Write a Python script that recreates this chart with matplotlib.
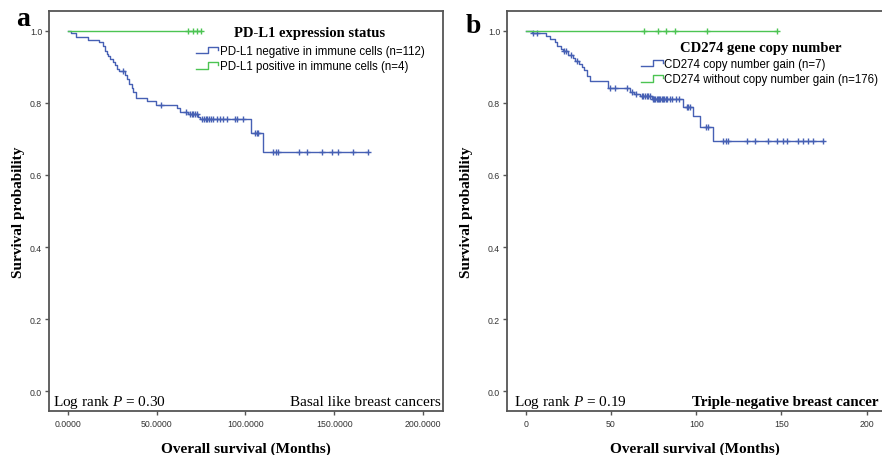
import numpy as np
import matplotlib
matplotlib.use("Agg")
import matplotlib.pyplot as plt
from matplotlib.lines import Line2D
from matplotlib.legend_handler import HandlerBase

plt.rcParams['font.family'] = ['Liberation Sans', 'DejaVu Sans']
plt.rcParams['mathtext.fontset'] = 'custom'
plt.rcParams['mathtext.rm'] = 'Liberation Serif'
plt.rcParams['mathtext.it'] = 'Liberation Serif:italic'

# ===== data =====
# panel a : basal like
a_neg_times = [0, 1.7, 4.5, 11.5, 17.7, 19.9, 20.8, 21.8, 22.7, 23.7, 25.2, 26.5, 27.8, 28.9,
               32.1, 33.1, 34.6, 35.9, 36.8, 38.3, 44.3, 49.6, 61.2, 63.1, 67.8, 73.4, 74.4,
               102.9, 110.0]
a_neg_surv = [1.0, 0.9935, 0.983, 0.974, 0.969, 0.959, 0.945, 0.936, 0.930, 0.922, 0.913, 0.904,
              0.894, 0.889, 0.878, 0.867, 0.853, 0.841, 0.830, 0.814, 0.806, 0.794, 0.785, 0.776,
              0.769, 0.760, 0.754, 0.717, 0.663]
a_neg_cens = [30.8, 52.4, 66.5, 68.7, 69.7, 70.6, 71.5, 72.5, 75.3, 76.6, 77.7, 78.5, 79.6, 80.4,
              81.9, 83.8, 85.6, 87.1, 89.4, 94.1, 95.4, 98.8, 105.4, 106.3, 107.2, 115.7, 117.2,
              118.5, 130.3, 134.8, 143.4, 148.5, 152.3, 160.7, 168.8]
a_pos_times = [0]
a_pos_surv = [1.0]
a_pos_cens = [67.8, 70.2, 72.5, 74.9]

# panel b : triple negative
b_gain_times = [0, 3.5, 11.9, 14.3, 17.2, 18.6, 20.5, 21.7, 25.0, 27.6, 28.9, 31.5, 32.8, 34.2,
                35.8, 37.7, 48.5, 61.2, 63.5, 67.0, 73.9, 92.5, 98.3, 102.2, 109.7]
b_gain_surv = [1.0, 0.993, 0.985, 0.978, 0.970, 0.959, 0.950, 0.943, 0.933, 0.924, 0.915, 0.908,
               0.899, 0.890, 0.876, 0.861, 0.840, 0.831, 0.825, 0.819, 0.811, 0.788, 0.763,
               0.733, 0.695]
b_gain_cens = [4.5, 6.4, 22.5, 23.6, 26.4, 29.9, 49.4, 52.4, 59.2, 62.3, 64.5, 68, 69, 70, 71, 72,
               72.9, 74.5, 75.2, 76, 76.8, 77.5, 78.3, 79, 79.8, 80.5, 81.2, 82, 83, 84.5, 86, 88,
               90, 94.4, 95.4, 96.4, 105.7, 107.1, 115.9, 117.5, 118.8, 129.6, 134.5, 142.3,
               147.2, 151.1, 153.1, 159.9, 162.8, 165.8, 168.7, 174.2]
b_nogain_times = [0]
b_nogain_surv = [1.0]
b_nogain_cens = [69.4, 77.8, 82.1, 87.6, 106.5, 147.6]

a_title = "PD-L1 expression status"
a_labels = ["PD-L1 negative in immune cells (n=112)", "PD-L1 positive in immune cells (n=4)"]
b_title = "CD274 gene copy number"
b_labels = ["CD274 copy number gain (n=7)", "CD274 without copy number gain (n=176)"]
a_xticks = [0, 50, 100, 150, 200]
a_xticklabels = ["0.0000", "50.0000", "100.0000", "150.0000", "200.0000"]
b_xticks = [0, 50, 100, 150, 200]
b_xticklabels = ["0", "50", "100", "150", "200"]
yticks = [0.0, 0.2, 0.4, 0.6, 0.8, 1.0]

BLUE = "#4660b4"
GREEN = "#4cc452"
SERIF = "Liberation Serif"


class StepHandler(HandlerBase):
    # SPSS style legend glyph
    def create_artists(self, legend, orig, xd, yd, w, h, fontsize, trans):
        x = np.array([0, 0.55, 0.55, 1.0, 1.0]) * w - xd
        y = np.array([0.1, 0.1, 0.9, 0.9, 0.55]) * h - yd
        ln = Line2D(x, y, color=orig.get_color(), lw=1.0)
        ln.set_transform(trans)
        return [ln]


def km(ax, times, surv, cens, color):
    times = np.asarray(times, float)
    surv = np.asarray(surv, float)
    end = max(max(cens), times[-1])
    ln, = ax.step(np.append(times, end), np.append(surv, surv[-1]), where='post',
                  color=color, lw=1.0)
    idx = np.searchsorted(times, cens, side='right') - 1
    ax.plot(cens, surv[idx], '+', color=color, ms=5, mew=1.0, ls='none')
    return ln


def style(ax, xlim, xticks, xticklabels, ylab_x):
    ax.set_xlim(*xlim)
    ax.set_ylim(-0.055, 1.055)
    ax.set_xticks(xticks)
    ax.set_xticklabels(xticklabels)
    ax.set_yticks(yticks)
    ax.set_yticklabels([f"{v:.1f}" for v in yticks])
    for s in ax.spines.values():
        s.set_color("#555555")
        s.set_linewidth(1.3)
    ax.tick_params(direction='out', length=3, width=1, color="#555555",
                   labelsize=6.3, labelcolor="#333333", pad=2)
    ax.tick_params(axis='x', pad=2.8)
    ax.set_xlabel("Overall survival (Months)", fontfamily=SERIF, fontweight='bold',
                  fontsize=11, labelpad=9.5)
    ax.set_ylabel("Survival probability", fontfamily=SERIF, fontweight='bold', fontsize=11)
    ax.yaxis.set_label_coords(ylab_x, 0.5)


def legend(ax, handles, labels, title, x0, ytop, xtitle, ytitle):
    ax.legend(handles, labels, handler_map={Line2D: StepHandler()},
              loc='upper left', bbox_to_anchor=(x0, ytop), frameon=False,
              borderpad=0, borderaxespad=0, handlelength=1.9, handletextpad=0.15,
              labelspacing=0.3, fontsize=8.3)
    ax.text(xtitle, ytitle, title, transform=ax.transAxes, fontfamily=SERIF,
            fontweight='bold', fontsize=10.5, ha='center', va='center')


fig = plt.figure(figsize=(8.82, 4.56), dpi=100)
axa = fig.add_axes([49 / 882, 1 - 412 / 456, 394 / 882, 400 / 456])
axb = fig.add_axes([507 / 882, 1 - 412 / 456, 376 / 882, 400 / 456])

# ---- panel a ----
la1 = km(axa, a_neg_times, a_neg_surv, a_neg_cens, BLUE)
la2 = km(axa, a_pos_times, a_pos_surv, a_pos_cens, GREEN)
style(axa, (-10.7, 211.3), a_xticks, a_xticklabels, -0.062)
legend(axa, [la1, la2], a_labels, a_title, 0.373, 0.915, 0.662, 0.9475)
axa.text(0.01, 0.015, r"Log rank $P$ = 0.30", transform=axa.transAxes, fontfamily=SERIF,
         fontsize=11, va='baseline', ha='left')
axa.text(0.995, 0.015, "Basal like breast cancers", transform=axa.transAxes, fontfamily=SERIF,
         fontsize=11, va='baseline', ha='right')

# ---- panel b ----
lb1 = km(axb, b_gain_times, b_gain_surv, b_gain_cens, BLUE)
lb2 = km(axb, b_nogain_times, b_nogain_surv, b_nogain_cens, GREEN)
style(axb, (-11.0, 209.6), b_xticks, b_xticklabels, -0.09)
legend(axb, [lb1, lb2], b_labels, b_title, 0.356, 0.8825, 0.676, 0.91)
axb.text(0.019, 0.015, r"Log rank $P$ = 0.19", transform=axb.transAxes, fontfamily=SERIF,
         fontsize=11, va='baseline', ha='left')
axb.text(0.987, 0.015, "Triple-negative breast cancer", transform=axb.transAxes,
         fontfamily=SERIF, fontweight='bold', fontsize=10.8, va='baseline', ha='right')

fig.text(16 / 882, 1 - 26 / 456, "a", fontfamily=SERIF, fontweight='bold', fontsize=20)
fig.text(466 / 882, 1 - 33 / 456, "b", fontfamily=SERIF, fontweight='bold', fontsize=20)

fig.savefig("out.png", dpi=100)
